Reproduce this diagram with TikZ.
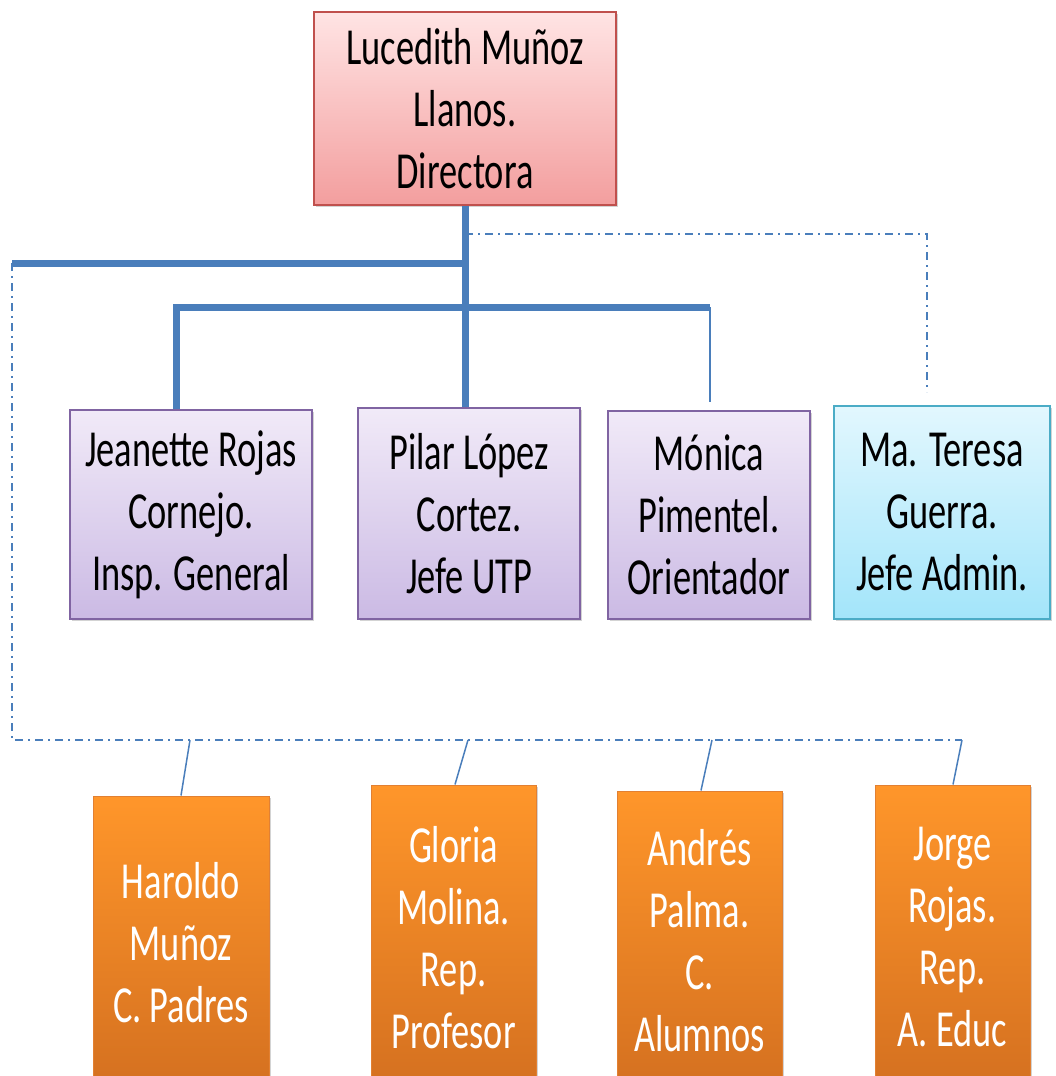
\documentclass[tikz,border=0pt]{standalone}
\usepackage{fontspec}
\setmainfont{Carlito}[FakeStretch=0.70]
\usepackage{tikz}
\usetikzlibrary{positioning,shadows,calc}
\usepackage{xcolor}
\definecolor{linkblue}{RGB}{74,126,187}
\definecolor{dirtop}{RGB}{255,228,228}
\definecolor{dirbottom}{RGB}{243,158,158}
\definecolor{dirborder}{RGB}{192,80,77}
\definecolor{jefetop}{RGB}{241,234,248}
\definecolor{jefebottom}{RGB}{203,186,228}
\definecolor{jefeborder}{RGB}{128,100,162}
\definecolor{admtop}{RGB}{226,247,254}
\definecolor{admbottom}{RGB}{163,229,250}
\definecolor{admborder}{RGB}{75,172,198}
\definecolor{reptop}{RGB}{255,150,42}
\definecolor{repbottom}{RGB}{212,112,32}
\definecolor{repborder}{RGB}{226,128,50}

\tikzset{
    orgbox/.style={align=center, inner sep=0pt, line width=1.5pt,
        font=\fontsize{52}{62}\selectfont,
        drop shadow={opacity=0.35, shadow xshift=2pt, shadow yshift=-2pt}},
    dirbox/.style={orgbox, draw=dirborder, top color=dirtop, bottom color=dirbottom},
    jefebox/.style={orgbox, draw=jefeborder, top color=jefetop, bottom color=jefebottom},
    admbox/.style={orgbox, draw=admborder, top color=admtop, bottom color=admbottom},
    repbox/.style={orgbox, draw=repborder, line width=1pt, top color=reptop, bottom color=repbottom, text=white},
    mainlink/.style={draw=linkblue, line width=7pt},
    thinlink/.style={draw=linkblue, line width=1.5pt},
    stafflink/.style={draw=linkblue, line width=1.5pt, dash pattern=on 8pt off 5pt on 2pt off 5pt}
}

\begin{document}
\begin{tikzpicture}[x=1pt, y=-1pt]

\useasboundingbox (0,0) rectangle (1055,1076);
\clip (0,0) rectangle (1055,1076);

% Director
\node[dirbox, minimum width=302pt, minimum height=193pt] (dir) at (465,108.5)
    {Lucedith Muñoz\\Llanos.\\Directora};

% Second level
\node[jefebox, minimum width=242pt, minimum height=209pt] (insp) at (191,514.5)
    {Jeanette Rojas\\Cornejo.\\Insp. General};
\node[jefebox, minimum width=222pt, minimum height=211pt] (utp) at (469,513.5)
    {Pilar López\\Cortez.\\Jefe UTP};
\node[jefebox, minimum width=202pt, minimum height=208pt] (orient) at (709,515)
    {Mónica\\Pimentel.\\Orientador};
\node[admbox, minimum width=216pt, minimum height=213pt] (admin) at (942,512.5)
    {Ma. Teresa\\Guerra.\\Jefe Admin.};

% Representatives
\node[repbox, minimum width=176pt, minimum height=294pt] (padres) at (181,943)
    {Haroldo\\Muñoz\\C. Padres};
\node[repbox, minimum width=165pt, minimum height=305pt] (profes) at (453.5,937.5)
    {Gloria\\Molina.\\Rep.\\Profesor};
\node[repbox, minimum width=165pt, minimum height=299pt] (alumnos) at (699.5,940.5)
    {Andrés\\Palma.\\C.\\Alumnos};
\node[repbox, minimum width=155pt, minimum height=305pt] (apoder) at (952.5,937.5)
    {Jorge\\Rojas.\\Rep.\\A. Educ};

% Junction points
\coordinate (upperbar) at (12,263);
\coordinate (lowerbar) at (0,307);
\coordinate (inspdrop) at (176,0);
\coordinate (orientbar) at (710,307);
\coordinate (staffbar) at (465,234);
\coordinate (staffcorner) at (927,234);
\coordinate (staffend) at (927,392);
\coordinate (repcorner) at (12,740);
\coordinate (repend) at (962,740);

% Main lines
\draw[mainlink] (dir.south) -- (dir.south |- utp.north);
\draw[mainlink] (dir.south |- upperbar) -- (upperbar);
\draw[mainlink] (inspdrop |- insp.north) -- (inspdrop |- lowerbar) -- (dir.south |- lowerbar);
\draw[mainlink] (dir.south |- lowerbar) -- (orientbar);
\draw[thinlink] (orientbar) -- ($(orient.north)+(1,-8)$);

% Staff lines
\draw[stafflink] (staffbar) -- (staffcorner) -- (staffend);
\draw[stafflink] (upperbar) -- (repcorner) -- (repend);

% Representative links
\draw[thinlink] (190,740) -- (padres.north);
\draw[thinlink] (468,740) -- ($(profes.north)+(1.5,0)$);
\draw[thinlink] (712,740) -- ($(alumnos.north)+(1.5,0)$);
\draw[thinlink] (repend) -- ($(apoder.north)+(0.5,0)$);

\end{tikzpicture}
\end{document}
